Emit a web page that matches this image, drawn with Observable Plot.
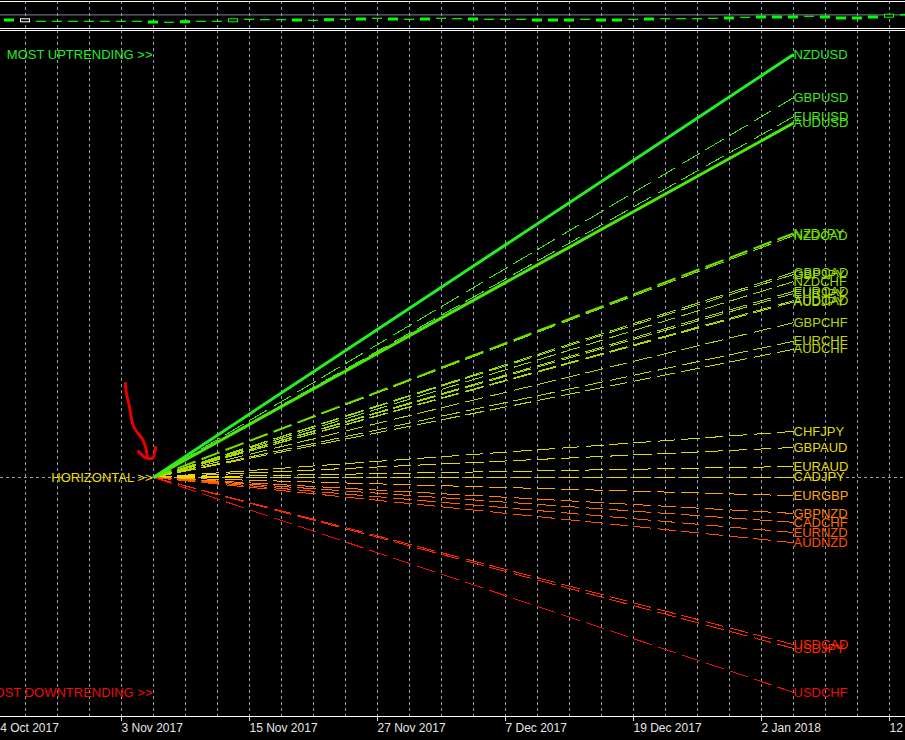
<!DOCTYPE html>
<html><head><meta charset="utf-8">
<script src="https://cdn.jsdelivr.net/npm/d3@7"></script>
<script src="https://cdn.jsdelivr.net/npm/@observablehq/plot@0.6"></script>
<style>
html,body{margin:0;padding:0;background:#000;}
#chart{width:905px;height:740px;position:relative;overflow:hidden;background:#000;}
#chart svg{display:block;}
</style></head><body><div id="chart"></div>
<script>
// ---- fan indicator data (trend strength per pair, end of fan) ----
const pairs = ["NZDUSD","GBPUSD","EURUSD","AUDUSD","NZDJPY","NZDCAD","GBPCAD","GBPJPY","NZDCHF","EURCAD","EURJPY","AUDCAD","AUDJPY","GBPCHF","EURCHF","AUDCHF","CHFJPY","GBPAUD","EURAUD","CADJPY","EURGBP","GBPNZD","CADCHF","EURNZD","AUDNZD","USDCAD","USDJPY","USDCHF"];
const trend = [100.0, 89.8, 85.3, 83.8, 57.7, 57.2, 48.5, 48.0, 46.3, 44.0, 43.5, 41.8, 41.5, 36.6, 32.2, 30.3, 10.9, 7.1, 2.6, 0.1, -4.3, -8.5, -10.6, -13.0, -15.4, -39.5, -40.4, -50.8];
const startBar = 10, endBar = 50;

// ---- time axis (daily bars) ----
const dateLabels = ["24 Oct 2017","3 Nov 2017","15 Nov 2017","27 Nov 2017","7 Dec 2017","19 Dec 2017","2 Jan 2018","12 Jan 2018"];
const dateBars = [0, 8, 16, 24, 32, 40, 48, 56];
const gridBars = [2,4,6,8,10,12,14,16,18,20,22,24,26,28,30,32,34,36,38,40,42,44,46,48,50,52,54,56];

// ---- price panel candles (bars 1..57) ----
const candleOpen  = [1.2250,1.2252,1.2228,1.2226,1.2228,1.2226,1.2228,1.2226,1.2228,1.2230,1.2216,1.2213,1.2226,1.2228,1.2222,1.2246,1.2244,1.2242,1.2250,1.2238,1.2233,1.2246,1.2240,1.2256,1.2260,1.2248,1.2240,1.2256,1.2254,1.2260,1.2246,1.2248,1.2246,1.2250,1.2230,1.2250,1.2246,1.2250,1.2230,1.2248,1.2240,1.2252,1.2254,1.2252,1.2256,1.2250,1.2266,1.2260,1.2280,1.2260,1.2276,1.2280,1.2270,1.2250,1.2260,1.2268,1.2290];
const candleClose = [1.2230,1.2222,1.2226,1.2228,1.2226,1.2228,1.2226,1.2228,1.2226,1.2210,1.2218,1.2233,1.2228,1.2226,1.2252,1.2248,1.2242,1.2244,1.2230,1.2236,1.2253,1.2248,1.2260,1.2258,1.2240,1.2246,1.2260,1.2258,1.2252,1.2240,1.2248,1.2246,1.2248,1.2230,1.2250,1.2230,1.2248,1.2230,1.2250,1.2246,1.2260,1.2254,1.2252,1.2254,1.2258,1.2270,1.2268,1.2280,1.2260,1.2280,1.2278,1.2260,1.2250,1.2270,1.2280,1.2298,1.2296];

// ---- hand-drawn red arrow annotation (bar, trend units) ----
const arrowShaft = [[8.25,22.2],[8.31,19.8],[8.46,17.4],[8.73,12.3],[8.98,10.7],[9.29,9.2],[9.50,7.2],[9.61,5.0]];
const arrowHead  = [[9.06,6.2],[9.50,4.7],[9.94,4.6],[10.13,7.1]];

// ---------------- build ----------------
const FONT = "'Liberation Sans', Arial, sans-serif";
const GRID = "#97a0ae";
const xDomain = [0.4375, 57];
const fan = pairs.map((p, k) => ({pair: p, v: trend[k]}));
const candles = candleOpen.map((o, k) => ({bar: k + 1, open: o, close: candleClose[k]}));
const bid = candleClose[candleClose.length - 1];

const thickSolid = new Set(["NZDUSD", "AUDUSD"]);
const thickDash = new Set(["NZDJPY"]);

const colorScale = {
  type: "linear",
  domain: [-51, -40, -15, -10.5, -4.3, 0, 11, 33, 47, 58, 88, 100],
  range: ["#ee0a0a","#ff2800","#ff5000","#ff6e00","#ffaa00","#eedc00","#dcdc00","#c2d800","#9cdc00","#74e000","#44e814","#22f022"]
};

const pricePanel = Plot.plot({
  width: 905, height: 30,
  marginTop: 1, marginBottom: 2, marginLeft: 0, marginRight: 0,
  style: {background: "#000", fontFamily: FONT},
  x: {domain: xDomain, axis: null},
  y: {domain: [1.2160, 1.2430], axis: null},
  color: {type: "identity"},
  marks: [
    Plot.gridX({ticks: gridBars, stroke: GRID, strokeOpacity: 1, strokeDasharray: "3,3"}),
    Plot.ruleY([bid], {stroke: "#778899"}),
    Plot.rect(candles, {
      x1: d => d.bar - 0.5, x2: d => d.bar + 0.5, y1: "open", y2: "close",
      insetLeft: 3.5, insetRight: 3.5,
      fill: d => Math.abs(d.close - d.open) >= 0.0025 ? "#000" : "#00ff00",
      stroke: d => (Math.abs(d.close - d.open) >= 0.0025 && d.close < d.open) ? "#ffffff" : "#00ff00"
    }),
    Plot.ruleY([1.2430, 1.2160], {stroke: "#ffffff"})
  ]
});

const yDomain = [-56.5, 105.67];
const mainPanel = Plot.plot({
  width: 905, height: 710,
  marginTop: 0, marginBottom: 24, marginLeft: 0, marginRight: 0,
  style: {background: "#000", fontFamily: FONT, fontSize: "13px", overflow: "visible"},
  x: {domain: xDomain, axis: null},
  y: {domain: yDomain, axis: null},
  color: colorScale,
  marks: [
    Plot.gridX({ticks: gridBars, stroke: GRID, strokeOpacity: 1, strokeDasharray: "3,3"}),
    Plot.ruleY([0], {stroke: GRID, strokeDasharray: "3,3"}),
    Plot.link(fan.filter(d => !thickSolid.has(d.pair) && !thickDash.has(d.pair)), {
      x1: () => startBar, y1: () => 0, x2: () => endBar, y2: "v",
      stroke: "v", strokeWidth: 1, strokeDasharray: "18,6", shapeRendering: "crispEdges"
    }),
    Plot.link(fan.filter(d => thickDash.has(d.pair)), {
      x1: () => startBar, y1: () => 0, x2: () => endBar, y2: "v",
      stroke: "v", strokeWidth: 2, strokeDasharray: "18,6"
    }),
    Plot.link(fan.filter(d => thickSolid.has(d.pair)), {
      x1: () => startBar, y1: () => 0, x2: () => endBar, y2: "v",
      stroke: "v", strokeWidth: 3
    }),
    Plot.text(fan, {x: () => endBar, y: "v", text: "pair", fill: "v", textAnchor: "start", fontSize: 13}),
    Plot.text([
      {label: "MOST UPTRENDING >>", v: d3.max(trend)},
      {label: "HORIZONTAL >>", v: 0},
      {label: "MOST DOWNTRENDING >>", v: d3.min(trend)}
    ], {x: () => startBar, y: "v", text: "label", fill: "v", textAnchor: "end", dx: -1, fontSize: 13}),
    Plot.line(arrowShaft, {x: d => d[0], y: d => d[1], stroke: "#e80000", strokeWidth: 3, curve: "catmull-rom", strokeLinecap: "round", strokeLinejoin: "round"}),
    Plot.line(arrowHead, {x: d => d[0], y: d => d[1], stroke: "#e80000", strokeWidth: 3, curve: "catmull-rom", strokeLinecap: "round", strokeLinejoin: "round"}),
    Plot.ruleY([yDomain[1]], {stroke: "#ffffff"}),
    Plot.ruleY([yDomain[0]], {stroke: "#ffffff"}),
    Plot.axisX(dateBars, {
      anchor: "bottom", tickSize: 5, tickPadding: 2, textAnchor: "start", dx: 0,
      fontSize: 12, color: "#e6e6e6",
      tickFormat: d => dateLabels[dateBars.indexOf(d)]
    })
  ]
});

// MT4 (GDI) dashes are measured along x: give each fan path a length equal to its x-span
const xs = mainPanel.scale("x");
const span = xs.apply(endBar) - xs.apply(startBar);
d3.select(mainPanel).selectAll('g[aria-label="link"] path').attr("pathLength", span);

const host = document.getElementById("chart");
host.appendChild(pricePanel);
host.appendChild(mainPanel);
</script>
</body></html>
